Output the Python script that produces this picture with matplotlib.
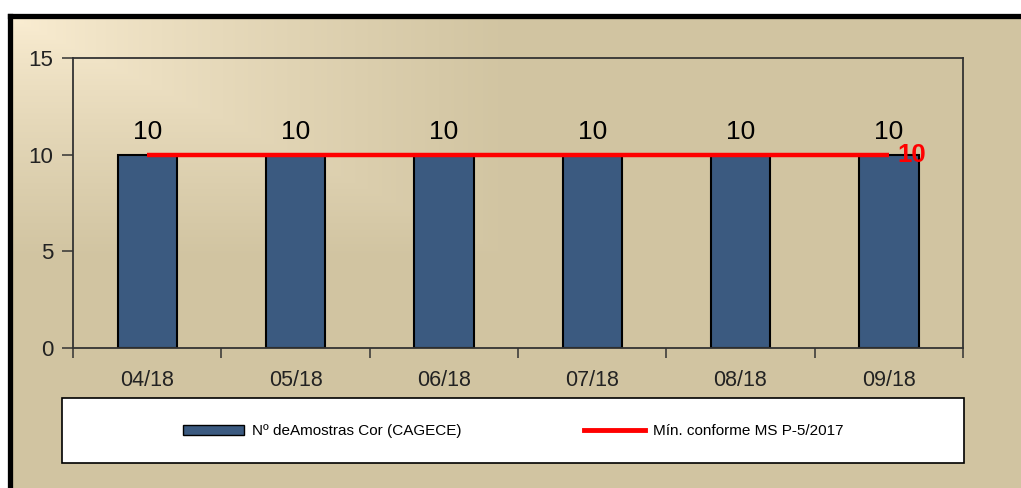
import matplotlib.pyplot as plt
import numpy as np
from matplotlib.patches import Rectangle
from matplotlib.lines import Line2D

# Data
months = ['04/18', '05/18', '06/18', '07/18', '08/18', '09/18']
amostras = [10, 10, 10, 10, 10, 10]
minimo = [10, 10, 10, 10, 10, 10]
bar_label = 'Nº deAmostras Cor (CAGECE)'
line_label = 'Mín. conforme MS P-5/2017'

# Colours
bar_color = '#3B5A80'
tan = np.array([209, 196, 161]) / 255.
light = np.array([251, 238, 211]) / 255.

plt.rcParams['font.family'] = ['Liberation Sans', 'DejaVu Sans']

W, H = 1021, 488
fig = plt.figure(figsize=(W / 100, H / 100), dpi=100)
fig.patch.set_facecolor('white')

# background with light corner gradient
bg = fig.add_axes([0, 0, 1, 1], zorder=-5)
yy, xx = np.mgrid[0:H, 0:W]
t = np.maximum((xx - 12) / 500., (yy - 18) / 240.)
t = np.clip(t, 0, 1) ** 0.8
img = light[None, None, :] * (1 - t[..., None]) + tan[None, None, :] * t[..., None]
img[yy < 14] = 1.0
img[xx < 8] = 1.0
bg.imshow(img, extent=(0, W, H, 0), aspect='auto', interpolation='nearest')
bg.plot([10, 10], [H, 16], color='black', lw=3.8, solid_capstyle='projecting')
bg.plot([10, W], [16, 16], color='black', lw=3.8, solid_capstyle='projecting')
bg.add_patch(Rectangle((62, 398), 902, 65, facecolor='white', edgecolor='black', lw=1.2))
bg.set_xlim(0, W)
bg.set_ylim(H, 0)
bg.axis('off')

# main axes
ax = fig.add_axes([73 / W, 1 - 348 / H, (963 - 73) / W, (348 - 58) / H])
ax.patch.set_alpha(0)
x = np.arange(len(months))
bars = ax.bar(x, amostras, width=0.4, color=bar_color, edgecolor='black', linewidth=1.5, zorder=2)
ax.plot(x, minimo, color='#FF0000', lw=3.2, zorder=3, solid_capstyle='butt')

for xi, v in zip(x, amostras):
    ax.annotate(str(v), (xi, v), xytext=(0, 8), textcoords='offset points',
                ha='center', va='bottom', fontsize=19, color='black')
ax.annotate(str(minimo[-1]), (x[-1], minimo[-1]), xytext=(6, 0), textcoords='offset points',
            ha='left', va='center', fontsize=18.5, fontweight='bold', color='#FF0000', zorder=4)

ax.set_xlim(-0.5, len(months) - 0.5)
ax.set_ylim(0, 15)
ax.set_yticks([0, 5, 10, 15])
ax.tick_params(axis='y', length=8, width=1.1, color='#333333', labelsize=16, pad=6, labelcolor='#222222')

ax.set_xticks(np.arange(-0.5, len(months), 1.0))
ax.set_xticklabels([])
ax.tick_params(axis='x', which='major', length=7, width=1.1, color='#333333')
ax.set_xticks(x, minor=True)
ax.set_xticklabels(months, minor=True)
ax.tick_params(axis='x', which='minor', length=0, pad=16, labelsize=15.5, labelcolor='#222222')

for s in ax.spines.values():
    s.set_color('#333333')
    s.set_linewidth(1.3)

handles = [Rectangle((0, 0), 1, 1, facecolor=bar_color, edgecolor='black', lw=1),
           Line2D([0], [0], color='#FF0000', lw=3.5)]
fig.legend(handles, [bar_label, line_label], loc='center', bbox_to_anchor=(513 / W, 1 - 431 / H),
           ncol=2, frameon=False, handlelength=4.0, handleheight=0.65,
           handletextpad=0.52, columnspacing=8.0,
           prop={'family': ['Liberation Sans', 'DejaVu Sans'], 'size': 11})

fig.savefig('out.png', dpi=100)
